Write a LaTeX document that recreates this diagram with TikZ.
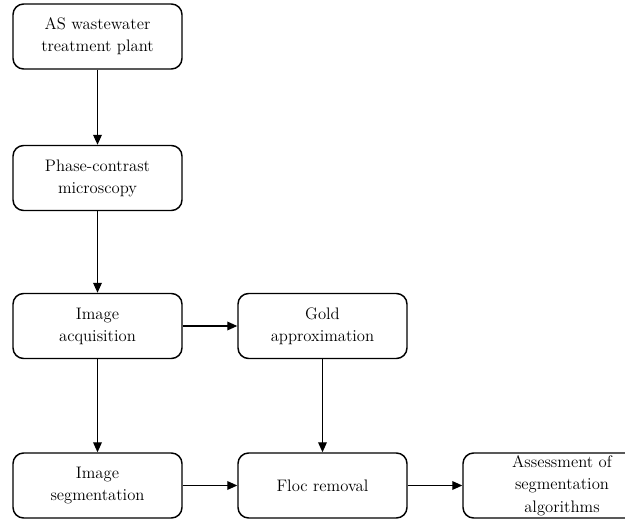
\documentclass[tikz,border=0pt]{standalone}
\usepackage{tikz}
\usetikzlibrary{arrows.meta,positioning}

\begin{document}
\begin{tikzpicture}[x=0.75pt,y=-0.75pt,
  stepbox/.style={draw,line width=1.1pt,rounded corners=8pt,align=center,
    minimum width=126.75pt,minimum height=48.75pt,inner sep=0pt,
    font=\fontsize{12.5}{16.5}\selectfont},
  flow/.style={line width=1pt,-{Triangle[length=7.5pt,width=6.5pt]}}]
\useasboundingbox (0,0) rectangle (625,520);
\node[stepbox] (plant) at (97.5,36.5) {AS wastewater\\treatment plant};
\node[stepbox] (micro) at (97.5,178) {Phase-contrast\\microscopy};
\node[stepbox] (acq) at (97.5,326) {Image\\acquisition};
\node[stepbox] (gold) at (322.5,326) {Gold\\approximation};
\node[stepbox] (seg) at (97.5,485.5) {Image\\segmentation};
\node[stepbox] (floc) at (322.5,485.5) {Floc removal};
\node[stepbox,minimum width=148.5pt,font=\fontsize{12.5}{17}\selectfont] (assess) at (562,485.5) {Assessment of\\segmentation\\algorithms};
\draw[flow] (plant) -- (micro);
\draw[flow] (micro) -- (acq);
\draw[flow] (acq) -- (gold);
\draw[flow] (acq) -- (seg);
\draw[flow] (gold) -- (floc);
\draw[flow] (seg) -- (floc);
\draw[flow] (floc) -- (assess);
\end{tikzpicture}
\end{document}
